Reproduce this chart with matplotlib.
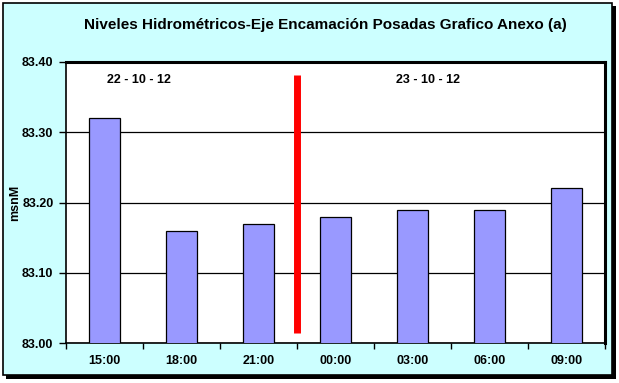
import matplotlib
matplotlib.use("Agg")
import matplotlib.pyplot as plt
from matplotlib.patches import Rectangle

plt.rcParams['font.family'] = ['Liberation Sans', 'DejaVu Sans']

categories = ["15:00", "18:00", "21:00", "00:00", "03:00", "06:00", "09:00"]
values = [83.32, 83.16, 83.17, 83.18, 83.19, 83.19, 83.22]
yticks = [83.00, 83.10, 83.20, 83.30, 83.40]
title = "Niveles Hidrométricos-Eje Encamación Posadas Grafico Anexo (a)"
ylabel = "msnM"
date_labels = ["22 - 10 - 12", "23 - 10 - 12"]
divider_x = 2.5
divider_range = (83.014, 83.382)

W, H = 619, 383
fig = plt.figure(figsize=(W / 100, H / 100), dpi=100)
fig.patch.set_facecolor("white")

# outer frame with shadow
fig.patches.append(Rectangle((6 / W, 1 - 379 / H), 610 / W, 373 / H, transform=fig.transFigure,
                             facecolor="black", edgecolor="none", zorder=-3))
fig.patches.append(Rectangle((3 / W, 1 - 375 / H), 609 / W, 372 / H, transform=fig.transFigure,
                             facecolor="#CCFFFF", edgecolor="black", linewidth=1.2, zorder=-2))

ax = fig.add_axes([66 / W, 1 - 343 / H, (605 - 66) / W, (343 - 62) / H])
ax.set_facecolor("white")
x = list(range(len(categories)))
ax.bar(x, values, width=0.4, color="#9999FF", edgecolor="black", linewidth=0.9, zorder=3)
ax.set_ylim(83.0, 83.4)
ax.set_xlim(-0.5, len(categories) - 0.5)
ax.set_yticks(yticks)
ax.set_yticklabels([f"{v:.2f}" for v in yticks], fontsize=9, fontweight="bold")
ax.set_xticks(x)
ax.set_xticklabels(categories, fontsize=9, fontweight="bold")
ax.set_xticks([i - 0.5 for i in range(len(categories) + 1)], minor=True)
ax.tick_params(axis="x", which="major", length=0, pad=9)
ax.tick_params(axis="x", which="minor", length=4, direction="out", width=1)
ax.tick_params(axis="y", length=5, direction="out", width=1, pad=4)
ax.grid(axis="y", color="black", linewidth=0.9, zorder=1)
ax.set_axisbelow(True)
for s in ["left", "bottom"]:
    ax.spines[s].set_linewidth(1.2)
for s in ["top", "right"]:
    ax.spines[s].set_linewidth(2.2)
ax.set_ylabel(ylabel, fontsize=9, fontweight="bold")
ax.yaxis.set_label_coords((21 - 66) / (605 - 66), 0.5)

ax.vlines(divider_x, divider_range[0], divider_range[1], color="#FF0000", linewidth=5, zorder=4)

ax.text(0.45, 83.375, date_labels[0], fontsize=9, fontweight="bold", ha="center", va="center")
ax.text(4.2, 83.375, date_labels[1], fontsize=9, fontweight="bold", ha="center", va="center")

fig.text(325 / W, 1 - 25 / H, title, fontsize=11, fontweight="bold", ha="center", va="center")

fig.savefig("out.png", dpi=100, facecolor=fig.get_facecolor())
